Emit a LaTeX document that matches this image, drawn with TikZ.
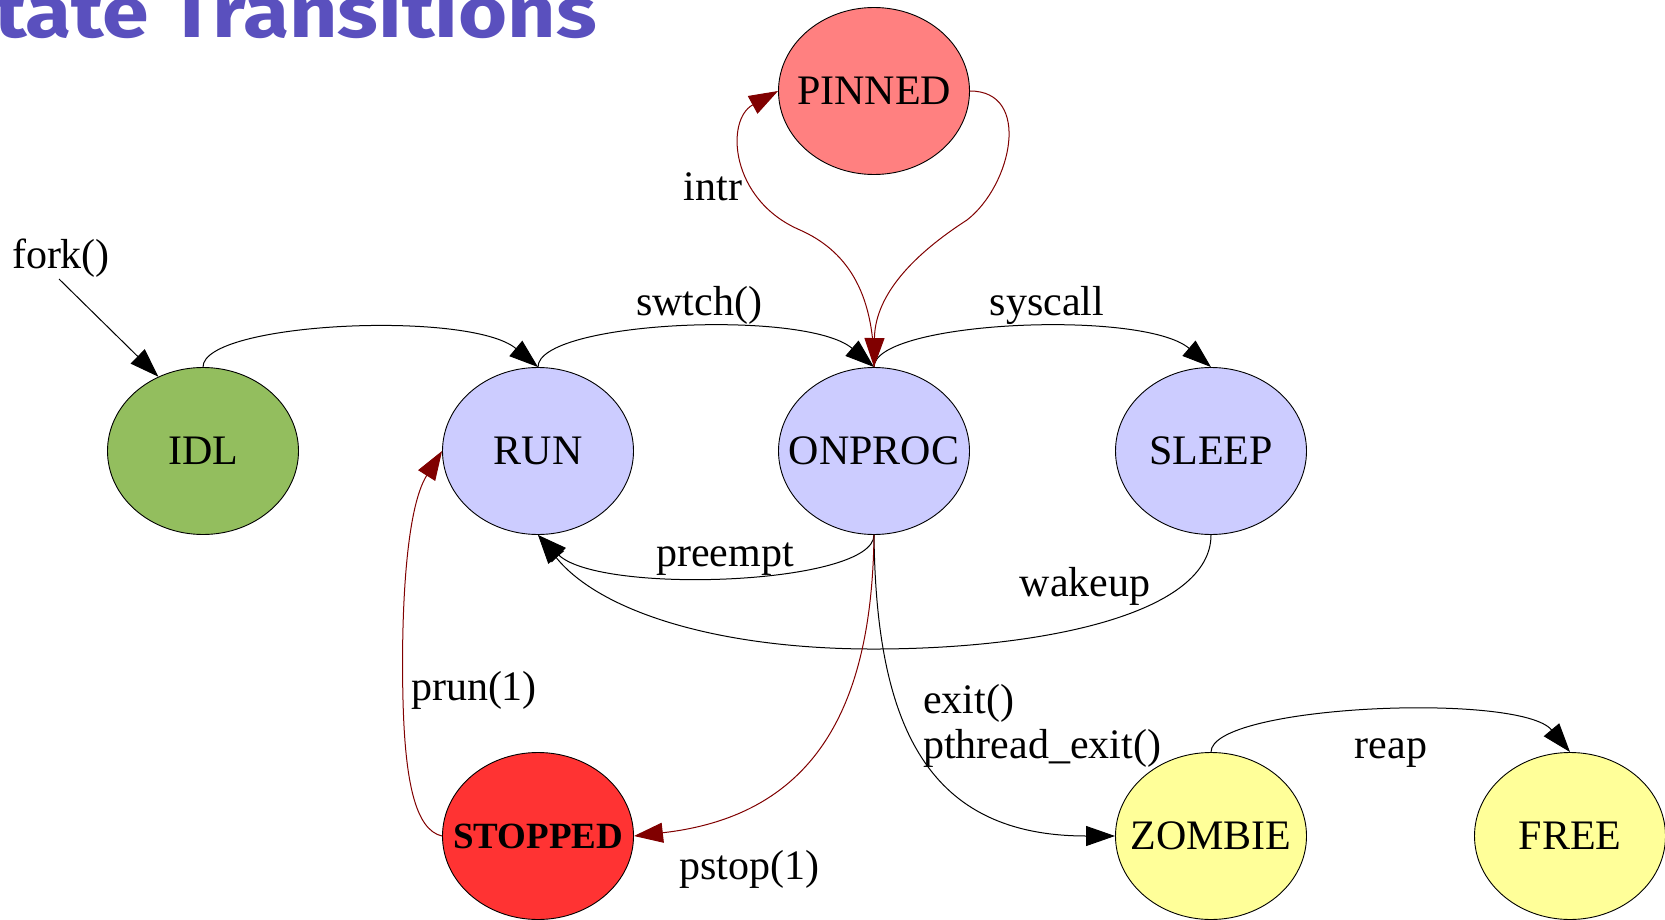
\documentclass[tikz,border=0pt]{standalone}
\usepackage{fontspec}
\setmainfont{Liberation Serif}
\newfontfamily\titlefont{Fira Sans}
\usetikzlibrary{arrows.meta,shapes.geometric}
\definecolor{idlgreen}{RGB}{147,190,94}
\definecolor{runblue}{RGB}{204,204,255}
\definecolor{pinred}{RGB}{255,128,128}
\definecolor{stopred}{RGB}{255,51,51}
\definecolor{zombieyellow}{RGB}{255,255,153}
\definecolor{edgered}{RGB}{128,0,0}
\definecolor{titleblue}{RGB}{90,80,190}
% state names take no width, so the ellipse size comes from the minimum sizes only
\newcommand\statename[1]{\makebox[0pt]{#1}}

\begin{document}
\begin{tikzpicture}[x=1pt,y=-1pt,
  state/.style={ellipse, draw=black, line width=0.9pt, minimum width=191pt,
    minimum height=167pt, inner sep=0pt, font=\fontsize{42}{50}\selectfont},
  trans/.style={line width=1pt, -{Triangle[length=29pt,width=20pt]}},
  redtrans/.style={trans, draw=edgered},
  lbl/.style={font=\fontsize{42}{50}\selectfont, anchor=base, inner sep=0pt}
]
\fill[white] (0,0) rectangle (1665,920);
\useasboundingbox (0,0) rectangle (1665,920);

% heading, running off the top and left edges of the page
\node (title) [anchor=base west, inner sep=0pt, text=titleblue,
  font=\titlefont\bfseries\fontsize{72}{76}\selectfont] at (-6,38)
  {\scalebox{1.17}[1]{tate Transitions}};

% states
\node (idl)     [state, fill=idlgreen]     at (203,451)  {\statename{IDL}};
\node (run)     [state, fill=runblue]      at (538,451)  {\statename{RUN}};
\node (onproc)  [state, fill=runblue]      at (874,451)  {\statename{ONPROC}};
\node (sleep)   [state, fill=runblue]      at (1211,451) {\statename{SLEEP}};
\node (pinned)  [state, fill=pinred]       at (874,91)   {\statename{PINNED}};
\node (stopped) [state, fill=stopred, font=\bfseries\fontsize{37}{44}\selectfont]
                                           at (538,836)  {\statename{STOPPED}};
\node (zombie)  [state, fill=zombieyellow] at (1211,836) {\statename{ZOMBIE}};
\node (free)    [state, fill=zombieyellow] at (1570,836) {\statename{FREE}};

% transitions
\coordinate (forkstart) at (59,279);
\draw[trans] (forkstart) -- (idl.121);
\draw[trans] (idl.north) .. controls (203,322) and (470,310) .. (run.north);
\draw[trans] (run.north) .. controls (538,321) and (806,309) .. (onproc.north);
\draw[trans] (onproc.north) .. controls (874,321) and (1143,309) .. (sleep.north);
\draw[trans] (onproc.south) .. controls (874,585) and (600,595) .. (run.south);
\draw[trans] (sleep.south) .. controls (1211,612) and (1050,648) .. (880,649)
                           .. controls (720,650) and (600,612) .. (run.south);
\draw[trans] (onproc.south) .. controls (876,730) and (930,836) .. (zombie.west);
\draw[trans] (zombie.north) .. controls (1211,705) and (1520,692) .. (free.north);
\draw[redtrans] (onproc.north) .. controls (874,290) and (845,250) .. (800,230)
                               .. controls (730,200) and (725,120) .. (pinned.west);
\draw[redtrans] (pinned.east) .. controls (1032,91) and (1012,185) .. (967,220)
                              .. controls (905,260) and (875,300) .. (onproc.north);
\draw[redtrans] (onproc.south) .. controls (872,700) and (820,815) .. (stopped.east);
\draw[redtrans] (stopped.west) .. controls (415,830) and (405,780) .. (403,700)
                               .. controls (401,620) and (405,510) .. (run.west);

% transition labels
\node (lfork)   [lbl] at (61,268)   {fork()};
\node (lintr)   [lbl] at (713,201)  {intr};
\node (lswtch)  [lbl] at (699,315)  {swtch()};
\node (lsys)    [lbl] at (1047,315) {syscall};
\node (lpre)    [lbl] at (725,566)  {preempt};
\node (lwake)   [lbl] at (1085,596) {wakeup};
\node (lprun)   [lbl] at (474,700)  {prun(1)};
\node (lexit)   [lbl, anchor=base west] at (923,713) {exit()};
\node (lpexit)  [lbl, anchor=base west] at (923,758) {pthread\_exit()};
\node (lreap)   [lbl] at (1391,758) {reap};
\node (lpstop)  [lbl] at (749,879)  {pstop(1)};
\end{tikzpicture}
\end{document}
